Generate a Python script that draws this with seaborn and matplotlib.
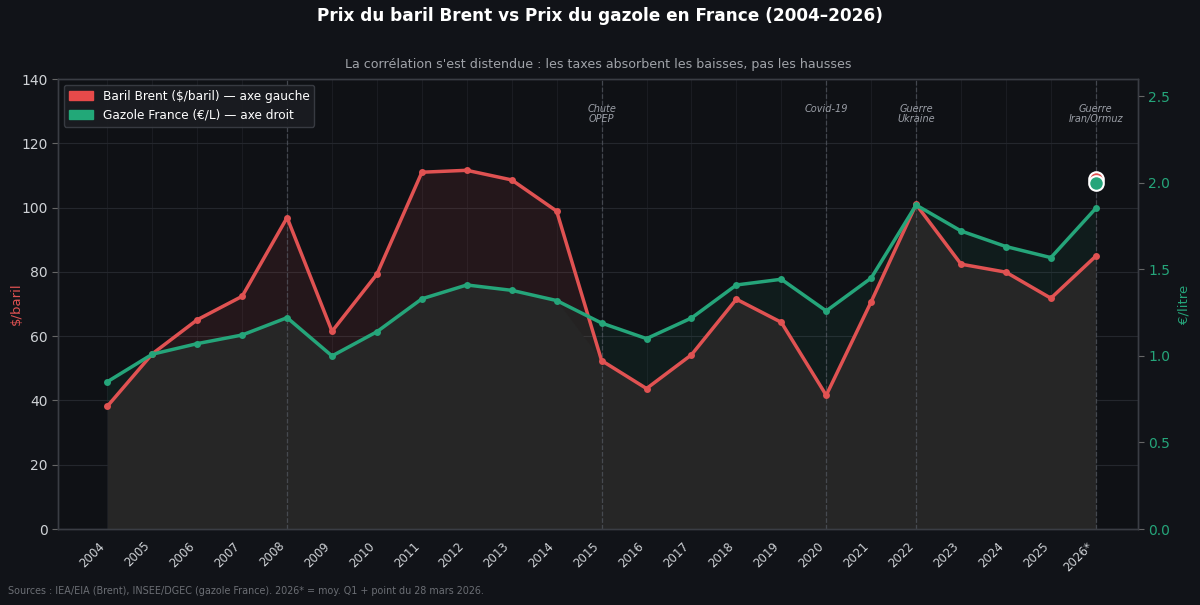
import numpy as np
import pandas as pd
import seaborn as sns
import matplotlib.pyplot as plt
import matplotlib.transforms as mtransforms
from matplotlib.patches import Patch

# --- data ---
years = ['2004', '2005', '2006', '2007', '2008', '2009', '2010', '2011', '2012',
         '2013', '2014', '2015', '2016', '2017', '2018', '2019', '2020', '2021',
         '2022', '2023', '2024', '2025', '2026*']
brent = [38.2, 54.5, 65.1, 72.4, 96.9, 61.5, 79.3, 111.0, 111.6, 108.6, 98.9,
         52.4, 43.7, 54.2, 71.5, 64.3, 41.6, 70.7, 101.0, 82.4, 79.9, 71.8, 84.9]
gazole = [0.851, 1.01, 1.071, 1.121, 1.221, 1.0, 1.14, 1.33, 1.41, 1.379, 1.32,
          1.19, 1.10, 1.219, 1.41, 1.443, 1.26, 1.45, 1.872, 1.722, 1.632, 1.568, 1.853]
# point du 28 mars 2026
brent_now = 108.9
gazole_now = 2.0

events = {'2015': 'Chute\nOPEP', '2020': 'Covid-19', '2022': 'Guerre\nUkraine',
          '2026*': 'Guerre\nIran/Ormuz'}
event_lines = ['2008', '2015', '2020', '2022', '2026*']

RED = '#e05252'
GREEN = '#25a57a'
BG = '#111318'
AX_BG = '#0f1115'

df = pd.DataFrame({'x': np.arange(len(years)), 'brent': brent, 'gazole': gazole})

LEFT_MAX = 140
RIGHT_MAX = 2.6
# gazole in left-axis units, only for the shaded areas
gaz_left = df['gazole'] * LEFT_MAX / RIGHT_MAX

sns.set_style('dark')
plt.rcParams['font.family'] = ['DejaVu Sans']

fig = plt.figure(figsize=(12, 6.05), dpi=100, facecolor=BG)
ax1 = fig.add_axes([0.0483, 0.1256, 0.8997, 0.7438])
ax1.set_facecolor(AX_BG)
ax2 = ax1.twinx()
ax2.patch.set_visible(False)

# shaded areas
x = df['x']
low = np.minimum(df['brent'], gaz_left)
ax1.fill_between(x, 0, low, color='#262626', zorder=1, lw=0)
ax1.fill_between(x, low, df['brent'], where=df['brent'] >= gaz_left, interpolate=True,
                 color=RED, alpha=0.1, zorder=1, lw=0)
ax1.fill_between(x, low, gaz_left, where=gaz_left >= df['brent'], interpolate=True,
                 color=GREEN, alpha=0.08, zorder=1, lw=0)

# vertical event lines
for yr in event_lines:
    ax1.axvline(years.index(yr), color='#555a63', ls='--', lw=0.9, alpha=0.7, zorder=1.5)
for yr, label in events.items():
    ax1.text(years.index(yr), 132.3, label, ha='center', va='top', fontsize=7,
             style='italic', color='#9a9ea6', linespacing=1.05, zorder=2)

sns.lineplot(data=df, x='x', y='brent', ax=ax1, color=RED, lw=2.5, marker='o',
             markersize=5, markeredgewidth=0, zorder=3)
sns.lineplot(data=df, x='x', y='gazole', ax=ax2, color=GREEN, lw=2.5, marker='o',
             markersize=5, markeredgewidth=0, zorder=3)

last = len(years) - 1
ax1.scatter([last], [brent_now], s=110, color=RED, edgecolor='white', lw=1.5, zorder=5)
ax2.scatter([last], [gazole_now], s=110, color=GREEN, edgecolor='white', lw=1.5, zorder=5)

# axes
ax1.set_xlim(-1.1, len(years) - 0.07)
ax1.set_ylim(0, LEFT_MAX)
ax2.set_ylim(0, RIGHT_MAX)
ax1.set_xticks(df['x'])
ax1.set_xticklabels(years, rotation=45, ha='right', fontsize=8.5)
shift = mtransforms.ScaledTranslation(2.5 / 72, 0, fig.dpi_scale_trans)
for lbl in ax1.get_xticklabels():
    lbl.set_transform(lbl.get_transform() + shift)
    lbl.set_color('#cfd2d6')
ax1.set_yticks(range(0, 141, 20))
ax2.set_yticks([0, 0.5, 1.0, 1.5, 2.0, 2.5])

ax1.tick_params(axis='x', colors='#cfd2d6', length=4, color='#666')
ax1.tick_params(axis='y', colors='#cfd2d6', labelsize=10, length=4, color='#666')
ax2.tick_params(axis='y', colors=GREEN, labelsize=10, length=4, color='#666')

ax1.set_xlabel('')
ax1.set_ylabel('$/baril', color=RED, fontsize=9.5, labelpad=-1)
ax2.set_ylabel('€/litre', color=GREEN, fontsize=9.5, labelpad=5.5)

ax1.grid(axis='y', color='#24272d', lw=0.8)
ax1.grid(axis='x', color='#1a1c22', lw=0.8)
ax1.set_axisbelow(True)
ax2.grid(False)
for ax in (ax1, ax2):
    for sp in ax.spines.values():
        sp.set_color('#3a3d44')
        sp.set_linewidth(1)
        sp.set_visible(True)

handles = [Patch(color='#e84a4a', label='Baril Brent ($/baril) — axe gauche'),
           Patch(color='#22a878', label='Gazole France (€/L) — axe droit')]
leg = ax2.legend(handles=handles, loc='upper left', fontsize=8.7, facecolor='#1a1c21',
                 edgecolor='#3a3d44', framealpha=0.95, labelcolor='white',
                 borderaxespad=0.5)
leg.set_zorder(10)

ax1.set_title("La corrélation s'est distendue : les taxes absorbent les baisses, pas les hausses",
              color='#a0a3a9', fontsize=9.1, pad=8)
fig.text(0.5, 0.973, 'Prix du baril Brent vs Prix du gazole en France (2004–2026)',
         ha='center', va='center', fontsize=12.2, fontweight='bold', color='white')
fig.text(0.007, 0.023, 'Sources : IEA/EIA (Brent), INSEE/DGEC (gazole France). '
         '2026* = moy. Q1 + point du 28 mars 2026.', fontsize=6.9, color='#6b6e74',
         ha='left', va='center')

fig.savefig('out.png', dpi=100, facecolor=BG)
